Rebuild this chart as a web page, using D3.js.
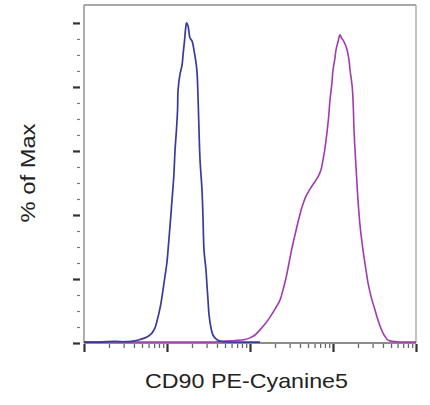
<!DOCTYPE html>
<html>
<head>
<meta charset="utf-8">
<script src="https://cdn.jsdelivr.net/npm/d3@7"></script>
<style>
  html, body { margin: 0; padding: 0; background: #fff; }
  svg { display: block; }
</style>
</head>
<body>
<svg id="chart" width="430" height="405"></svg>
<script>
// ---- Data (fluorescence intensity, % of Max) ----
const isotypeX = [10, 15.6, 23.6, 31.2, 38.9, 47.3, 57.4, 65.9, 71.6, 75.8, 80.1, 84.7, 89.5, 94.6, 100, 103, 109, 115, 121, 125, 130, 134, 136, 143, 152, 156, 163, 167, 172, 179, 184, 189, 200, 211, 223, 230, 236, 243, 250, 264, 272, 279, 295, 303, 312, 321, 339, 358, 389, 435, 574, 1000, 1319];
const isotypeY = [0.3, 0.3, 0.5, 0.4, 0.6, 1.1, 1.9, 3.1, 4.7, 6.9, 9.4, 12.5, 16.6, 20.9, 25.3, 29.1, 36.9, 44.7, 52.5, 60.3, 66.6, 72.8, 79.1, 83.8, 86.9, 90.0, 94.7, 97.8, 100, 99.1, 97.2, 95.3, 94.4, 91.6, 87.8, 84.7, 77.5, 66.6, 57.2, 47.8, 38.4, 29.1, 22.8, 18.1, 13.4, 8.8, 4.7, 2.5, 1.3, 0.6, 0.3, 0.3, 0.3];

const cd90X = [10, 30, 100, 250, 378, 500, 659, 871, 1000, 1148, 1319, 1516, 1742, 2000, 2297, 2498, 2716, 2871, 3034, 3207, 3486, 3789, 4233, 4729, 5284, 5904, 6596, 7169, 7579, 8012, 8470, 8830, 9204, 9730, 10000, 10570, 10870, 11490, 12140, 12650, 13190, 13960, 14760, 15600, 16040, 16950, 17430, 17920, 18420, 19190, 20000, 21140, 22970, 24980, 26410, 27920, 29510, 32070, 33900, 36840, 40030, 43500, 46000, 51400, 64100, 100000];
const cd90Y = [0.3, 0.3, 0.3, 0.3, 0.3, 0.6, 0.8, 1.1, 1.6, 2.5, 4.1, 5.9, 8.1, 10.6, 13.4, 16.6, 20.3, 23.4, 26.6, 29.7, 33.8, 37.8, 42.5, 45.9, 48.1, 50.0, 51.9, 54.1, 57.2, 60.9, 65.9, 70.3, 75.9, 81.6, 85.3, 89.1, 91.6, 94.1, 96.3, 95.3, 94.7, 93.4, 91.6, 88.4, 85.3, 80.6, 75.9, 66.6, 60.3, 52.5, 44.7, 36.9, 29.1, 22.8, 18.8, 15.9, 13.4, 10.3, 8.1, 5.3, 3.1, 1.6, 0.9, 0.5, 0.3, 0.3];

const xMajorTicks = [10, 100, 1000, 10000, 100000];
const yMajorTicks = [0, 20, 40, 60, 80, 100];
const xLabel = "CD90 PE-Cyanine5";
const yLabel = "% of Max";

// ---- Layout ----
const mLeft = 84, mRight = 416, mTop = 5, mBottom = 343;
const svg = d3.select("#chart");

const x = d3.scaleLog().domain([10, 100000]).range([mLeft, mRight]);
const y = d3.scaleLinear().domain([0, 105.6]).range([mBottom, mTop]);

// minor ticks
const xMinorTicks = [];
for (let d = 10; d < 100000; d *= 10) {
  for (let k = 2; k <= 9; k++) xMinorTicks.push(d * k);
}
const yMinorTicks = d3.range(0, 101, 5).filter(v => v % 20 !== 0);

// Frame
const frameColor = "#8a8a8a";
svg.append("line").attr("x1", mLeft).attr("x2", mRight).attr("y1", mTop).attr("y2", mTop)
  .attr("stroke", frameColor).attr("stroke-width", 1.6);
svg.append("line").attr("x1", mRight).attr("x2", mRight).attr("y1", mTop).attr("y2", mBottom)
  .attr("stroke", "#a8a8a8").attr("stroke-width", 1.4);
svg.append("line").attr("x1", mLeft).attr("x2", mLeft).attr("y1", mTop).attr("y2", mBottom)
  .attr("stroke", frameColor).attr("stroke-width", 1.4);
svg.append("line").attr("x1", mLeft).attr("x2", mRight).attr("y1", mBottom).attr("y2", mBottom)
  .attr("stroke", "#666").attr("stroke-width", 1.4);

// Y axis ticks (with a small gap from the axis line)
const tickColor = "#333";
const yMajAxis = d3.axisLeft(y).tickValues(yMajorTicks).tickSize(7).tickFormat("");
const yMinAxis = d3.axisLeft(y).tickValues(yMinorTicks).tickSize(3).tickFormat("");
const gyMaj = svg.append("g").attr("transform", `translate(${mLeft - 4},0)`).call(yMajAxis);
const gyMin = svg.append("g").attr("transform", `translate(${mLeft - 4},0)`).call(yMinAxis);
[gyMaj, gyMin].forEach(g => {
  g.select(".domain").remove();
  g.selectAll(".tick line").attr("stroke", tickColor);
});
gyMaj.selectAll(".tick line").attr("stroke-width", 2.2);
gyMin.selectAll(".tick line").attr("stroke-width", 1.2).attr("stroke", "#777");

// X axis ticks
const xMajAxis = d3.axisBottom(x).tickValues(xMajorTicks).tickSize(8).tickFormat("");
const xMinAxis = d3.axisBottom(x).tickValues(xMinorTicks).tickSize(4).tickFormat("");
const gxMaj = svg.append("g").attr("transform", `translate(0,${mBottom + 1})`).call(xMajAxis);
const gxMin = svg.append("g").attr("transform", `translate(0,${mBottom + 1})`).call(xMinAxis);
[gxMaj, gxMin].forEach(g => {
  g.select(".domain").remove();
  g.selectAll(".tick line").attr("stroke", tickColor);
});
gxMaj.selectAll(".tick line").attr("stroke-width", 2.2);
gxMin.selectAll(".tick line").attr("stroke-width", 1.3).attr("stroke", "#666");

// Curves
const line = d3.line()
  .x(d => x(d[0]))
  .y(d => y(d[1]))
  .curve(d3.curveCatmullRom.alpha(0.5));

const isoData = d3.zip(isotypeX, isotypeY);
const cd90Data = d3.zip(cd90X, cd90Y);

svg.append("path").datum(cd90Data).attr("d", line)
  .attr("fill", "none").attr("stroke", "#a03aae").attr("stroke-width", 1.6)
  .attr("stroke-linejoin", "round");
svg.append("path").datum(isoData).attr("d", line)
  .attr("fill", "none").attr("stroke", "#3a3a9c").attr("stroke-width", 1.7)
  .attr("stroke-linejoin", "round");

// Labels
svg.append("text")
  .attr("x", 246.5).attr("y", 388)
  .attr("text-anchor", "middle")
  .attr("font-family", "'Liberation Sans', Arial, sans-serif")
  .attr("font-size", 21)
  .attr("fill", "#222")
  .attr("textLength", 203)
  .attr("lengthAdjust", "spacingAndGlyphs")
  .text(xLabel);

svg.append("text")
  .attr("transform", "translate(35,173) rotate(-90)")
  .attr("text-anchor", "middle")
  .attr("font-family", "'Liberation Sans', Arial, sans-serif")
  .attr("font-size", 21)
  .attr("fill", "#222")
  .attr("textLength", 99)
  .attr("lengthAdjust", "spacingAndGlyphs")
  .text(yLabel);
</script>
</body>
</html>
